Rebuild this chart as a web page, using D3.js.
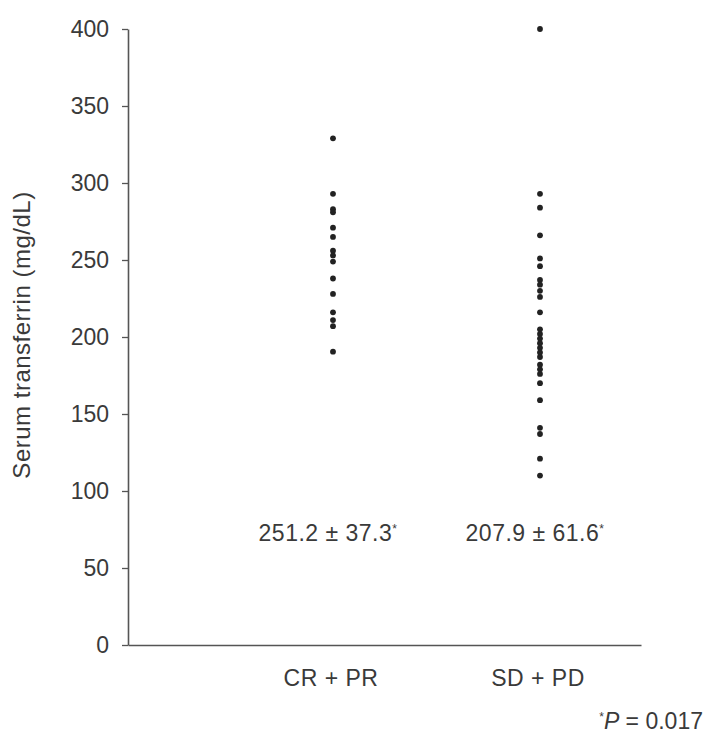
<!DOCTYPE html>
<html><head><meta charset="utf-8">
<script src="https://cdn.jsdelivr.net/npm/d3@7"></script>
<style>body{margin:0;background:#fff}svg{display:block}</style>
</head><body>
<svg id="c" width="705" height="735"></svg>
<script>
const categories = ["CR + PR", "SD + PD"];
const crpr = [329, 293, 283, 281, 271, 265, 256, 253, 249, 238, 228, 216, 211, 207, 190.5];
const sdpd = [400, 293, 284, 266, 251, 246, 237, 234, 230, 226, 216, 205, 202, 199, 196, 193, 190, 187, 182, 179, 176, 170, 159, 141, 137, 121, 110];
const summaries = ["251.2 \u00b1 37.3", "207.9 \u00b1 61.6"];
const yTicks = [0, 50, 100, 150, 200, 250, 300, 350, 400];
const yTitle = "Serum transferrin (mg/dL)";

const svg = d3.select("#c");
const font = "'Liberation Sans', Arial, sans-serif";
const ink = "#3a3a3a";
const fs = 23;

const y = d3.scaleLinear().domain([0, 400]).range([645, 29]);
const xc = d3.scaleOrdinal().domain(categories).range([333, 540]);

const gy = svg.append("g").attr("transform", "translate(128,0)")
  .call(d3.axisLeft(y).tickValues(yTicks).tickSize(6).tickPadding(13).tickSizeOuter(0));
gy.select(".domain").attr("stroke", "#555").attr("stroke-width", 1.6);
gy.selectAll(".tick line").attr("stroke", "#555").attr("stroke-width", 1.3);
gy.selectAll(".tick text").attr("font-family", font).attr("font-size", fs).attr("fill", ink);

const gx = svg.append("g").attr("transform", "translate(0,645)")
  .call(d3.axisBottom(d3.scaleLinear().domain([0,1]).range([128, 641])).tickValues([]).tickSizeOuter(0));
gx.select(".domain").attr("stroke", "#555").attr("stroke-width", 1.6);

svg.append("text").attr("transform", "translate(30,335) rotate(-90)")
  .attr("text-anchor", "middle").attr("font-family", font).attr("font-size", 24).attr("letter-spacing", 0.5).attr("fill", ink).text(yTitle);

const groups = [crpr, sdpd];
groups.forEach((vals, i) => {
  svg.append("g").selectAll("circle").data(vals).join("circle")
    .attr("cx", xc(categories[i])).attr("cy", d => y(d)).attr("r", 2.9).attr("fill", "#222");
  const t = svg.append("text").attr("x", xc(categories[i]) - 5).attr("y", 541)
    .attr("text-anchor", "middle").attr("font-family", font).attr("font-size", fs).attr("letter-spacing", 0.5).attr("fill", ink);
  t.append("tspan").text(summaries[i]);
  t.append("tspan").attr("font-size", 12).attr("dy", -8).text("*");
  svg.append("text").attr("x", xc(categories[i]) - 2).attr("y", 686)
    .attr("text-anchor", "middle").attr("font-family", font).attr("font-size", fs).attr("letter-spacing", 0.5).attr("fill", ink).text(categories[i]);
});

const p = svg.append("text").attr("x", 703).attr("y", 729).attr("text-anchor", "end")
  .attr("font-family", font).attr("font-size", fs).attr("fill", ink);
p.append("tspan").attr("font-size", 12).attr("dy", -8).text("*");
p.append("tspan").attr("font-style", "italic").attr("dy", 8).text("P");
p.append("tspan").text(" = 0.017");
</script>
</body></html>
